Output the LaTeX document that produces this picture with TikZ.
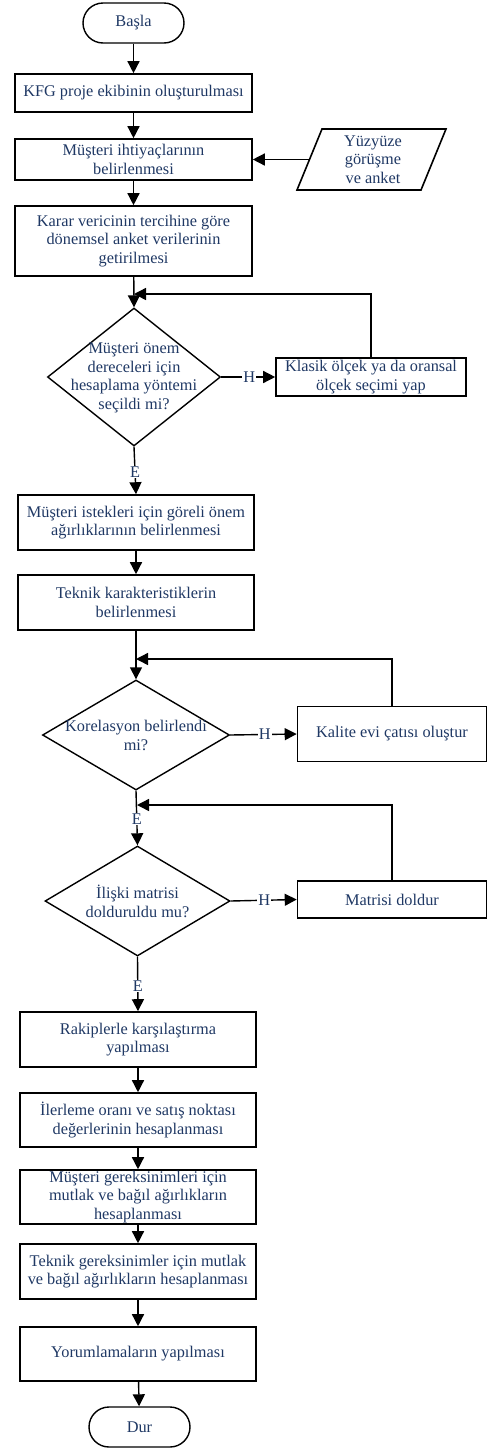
\documentclass[tikz,border=0pt]{standalone}
\usepackage{fontspec}
\setmainfont{Liberation Serif}
\usetikzlibrary{arrows.meta,shapes.geometric}
\definecolor{txtblue}{RGB}{31,56,100}
\newcommand\dgfont{\fontsize{16.3}{18.6}\selectfont}
\begin{document}
\begin{tikzpicture}[x=1pt,y=-1pt,
  txt/.style={text=txtblue,font=\dgfont,align=center,inner sep=0pt},
  box/.style={txt,draw,line width=1.6pt,minimum width=237pt},
  sbox/.style={txt,draw,line width=1.6pt,minimum width=189pt},
  term/.style={txt,draw,line width=1.4pt,minimum width=101pt,minimum height=40pt,rounded corners=20pt},
  dec/.style={draw,diamond,line width=1.4pt,inner sep=0pt},
  arr/.style={line width=1.4pt,-{Triangle[length=12pt,width=12pt]}},
  lbl/.style={txt,fill=white,inner sep=1pt}]
\useasboundingbox (0,0) rectangle (490,1449);

% nodes
\node[term] (start) at (133.5,23) {Başla};
\node[box,minimum height=38pt] (kfg) at (133.5,93) {KFG proje ekibinin oluşturulması};
\node[box,minimum height=41pt] (ihtiyac) at (133.5,159.5) {Müşteri ihtiyaçlarının\\belirlenmesi};
\node[box,minimum height=70pt] (karar) at (133.5,241) {Karar vericinin tercihine göre\\dönemsel anket verilerinin\\getirilmesi};

% parallelogram
\coordinate (pa) at (322,129);
\coordinate (pb) at (446,129);
\coordinate (pc) at (421,190);
\coordinate (pd) at (297,190);
\coordinate (pleft) at (309.5,159.5);
\draw[line width=1.6pt] (pa) -- (pb) -- (pc) -- (pd) -- cycle;
\node[txt] (yuz) at (373,159.5) {Yüzyüze\\görüşme\\ve anket};

\node[dec,minimum width=173pt,minimum height=138pt] (d1) at (134,377) {};
\node[txt] (d1t) at (134,378) {Müşteri önem\\dereceleri için\\hesaplama yöntemi\\seçildi mi?};
\node[sbox,minimum width=190pt,minimum height=38pt] (klasik) at (371,377) {Klasik ölçek ya da oransal\\ölçek seçimi yap};
\coordinate (j1) at (134,294);

\node[box,minimum width=236pt,minimum height=55pt] (istek) at (136,522.5) {Müşteri istekleri için göreli önem\\ağırlıklarının belirlenmesi};
\node[box,minimum width=236pt,minimum height=55pt] (teknik) at (136,602.5) {Teknik karakteristiklerin\\belirlenmesi};

\node[dec,minimum width=187pt,minimum height=110pt] (d2) at (136,735) {};
\node[txt] (d2t) at (136,735.5) {Korelasyon belirlendi\\mi?};
\node[sbox,minimum height=55pt] (kalite) at (392,734) {Kalite evi çatısı oluştur};
\coordinate (j2) at (136,659);

\node[dec,minimum width=185pt,minimum height=110pt] (d3) at (137.5,901) {};
\node[txt] (d3t) at (137.5,901.5) {İlişki matrisi\\dolduruldu mu?};
\node[sbox,minimum height=37pt] (matris) at (392,899.5) {Matrisi doldur};
\coordinate (j3) at (137,805);

\node[box,minimum width=236pt,minimum height=55pt] (rakip) at (138,1039.5) {Rakiplerle karşılaştırma\\yapılması};
\node[box,minimum width=236pt,minimum height=54pt] (ilerleme) at (138,1120) {İlerleme oranı ve satış noktası\\değerlerinin hesaplanması};
\node[box,minimum width=236pt,minimum height=54pt] (mgerek) at (138,1197) {Müşteri gereksinimleri için\\mutlak ve bağıl ağırlıkların\\hesaplanması};
\node[box,minimum width=236pt,minimum height=55pt] (tgerek) at (138,1271.5) {Teknik gereksinimler için mutlak\\ve bağıl ağırlıkların hesaplanması};
\node[box,minimum width=236pt,minimum height=54pt] (yorum) at (138,1354) {Yorumlamaların yapılması};
\node[term] (stop) at (139.5,1427) {Dur};

% connectors
\draw[arr] (start) -- (kfg);
\draw[arr] (kfg) -- (ihtiyac);
\draw[arr] (ihtiyac) -- (karar);
\draw[arr] (pleft) -- (ihtiyac.east);
\draw[arr] (karar) -- (d1.north);
\draw[arr] (klasik.north) |- (j1);
\draw[arr] (d1.east) -- node[lbl,pos=0.52] (h1) {H} (klasik.west);
\draw[arr] (d1.south) -- node[lbl,pos=0.53] (e1) {E} (istek.north);
\draw[arr] (istek) -- (teknik);
\draw[arr] (teknik) -- (d2.north);
\draw[arr] (kalite.north) |- (j2);
\draw[arr] (d2.east) -- node[lbl,pos=0.52] (h2) {H} (kalite.west);
\draw[arr] (d2.south) -- node[lbl,pos=0.52] (e2) {E} (d3.north);
\draw[arr] (matris.north) |- (j3);
\draw[arr] (d3.east) -- node[lbl,pos=0.51] (h3) {H} (matris.west);
\draw[arr] (d3.south) -- node[lbl,pos=0.54] (e3) {E} (rakip.north);
\draw[arr] (rakip) -- (ilerleme);
\draw[arr] (ilerleme) -- (mgerek);
\draw[arr] (mgerek) -- (tgerek);
\draw[arr] (tgerek) -- (yorum);
\draw[arr] (yorum) -- (stop);
\end{tikzpicture}
\end{document}
